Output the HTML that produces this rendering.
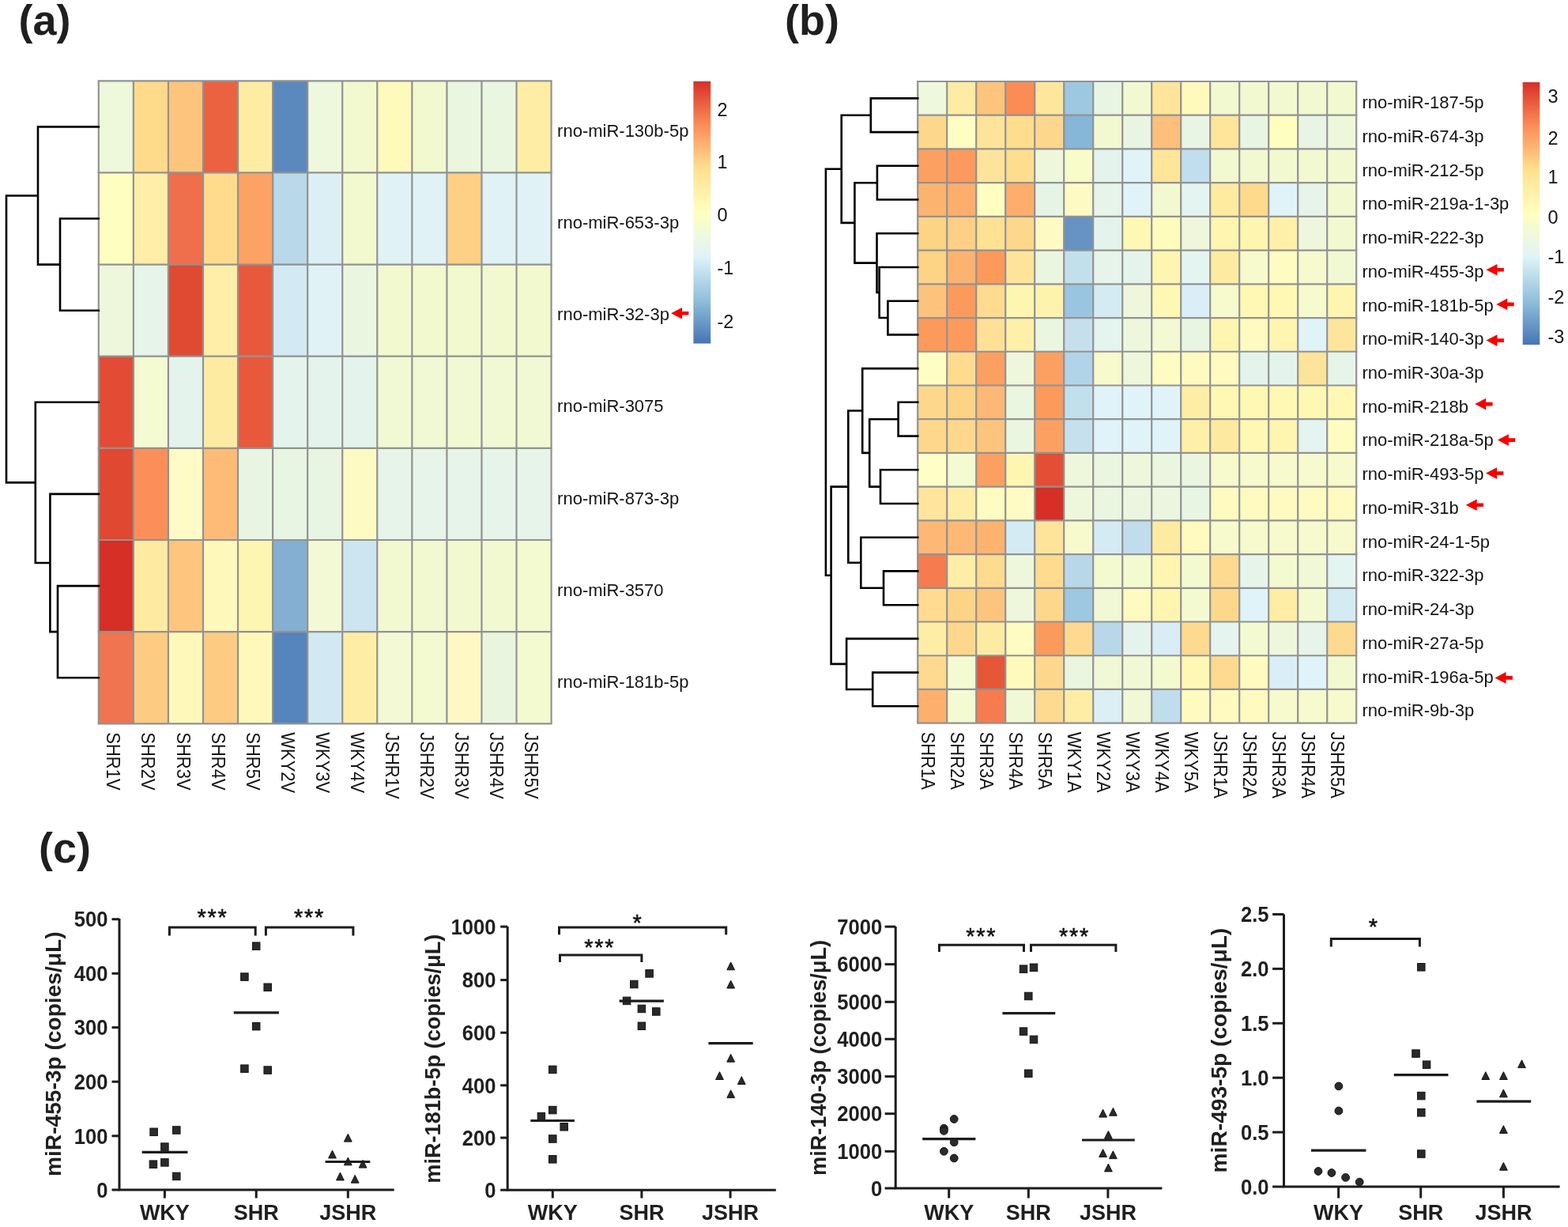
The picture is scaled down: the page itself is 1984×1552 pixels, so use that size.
<!DOCTYPE html>
<html><head><meta charset="utf-8"><title>miRNA heatmaps and qPCR</title>
<style>html,body{margin:0;padding:0;background:#fff;} svg{display:block;} .st{fill:#111;font-weight:normal;letter-spacing:1.7px;stroke:#111;stroke-width:0.5px;}</style>
</head><body>
<svg width="1984" height="1552" viewBox="0 0 1984 1552">
<style>text{font-family:'Liberation Sans', Arial, Helvetica, sans-serif;fill:#111;} .lab{fill:#141414;} .b{font-weight:bold;fill:#1f1f1f;}</style>
<rect width="1984" height="1552" fill="#fff"/>
<text x="23.5" y="44.2" font-size="54" class="b pl">(a)</text>
<text x="993" y="44.2" font-size="54" class="b pl">(b)</text>
<text x="49" y="1091.2" font-size="54" class="b pl">(c)</text>
<g>
<rect x="124.80" y="102.30" width="44.06" height="116.14" fill="#EEF8DA"/>
<rect x="168.86" y="102.30" width="44.06" height="116.14" fill="#FEDB8B"/>
<rect x="212.92" y="102.30" width="44.06" height="116.14" fill="#FDC47D"/>
<rect x="256.98" y="102.30" width="44.06" height="116.14" fill="#EB6241"/>
<rect x="301.04" y="102.30" width="44.06" height="116.14" fill="#FEECA2"/>
<rect x="345.10" y="102.30" width="44.06" height="116.14" fill="#5B89BE"/>
<rect x="389.16" y="102.30" width="44.06" height="116.14" fill="#EEF8DC"/>
<rect x="433.22" y="102.30" width="44.06" height="116.14" fill="#F3F9CE"/>
<rect x="477.28" y="102.30" width="44.06" height="116.14" fill="#FEFABB"/>
<rect x="521.34" y="102.30" width="44.06" height="116.14" fill="#F3F9CE"/>
<rect x="565.40" y="102.30" width="44.06" height="116.14" fill="#EAF6E0"/>
<rect x="609.46" y="102.30" width="44.06" height="116.14" fill="#EAF6E0"/>
<rect x="653.52" y="102.30" width="44.06" height="116.14" fill="#FEEDA5"/>
<rect x="124.80" y="218.44" width="44.06" height="116.14" fill="#FEFEC1"/>
<rect x="168.86" y="218.44" width="44.06" height="116.14" fill="#FEEEA8"/>
<rect x="212.92" y="218.44" width="44.06" height="116.14" fill="#EF6E4B"/>
<rect x="256.98" y="218.44" width="44.06" height="116.14" fill="#FEDB8D"/>
<rect x="301.04" y="218.44" width="44.06" height="116.14" fill="#FCA265"/>
<rect x="345.10" y="218.44" width="44.06" height="116.14" fill="#B9D8EA"/>
<rect x="389.16" y="218.44" width="44.06" height="116.14" fill="#DCEFF5"/>
<rect x="433.22" y="218.44" width="44.06" height="116.14" fill="#F3F9CE"/>
<rect x="477.28" y="218.44" width="44.06" height="116.14" fill="#E0F2F6"/>
<rect x="521.34" y="218.44" width="44.06" height="116.14" fill="#E0F2F6"/>
<rect x="565.40" y="218.44" width="44.06" height="116.14" fill="#FDD085"/>
<rect x="609.46" y="218.44" width="44.06" height="116.14" fill="#E0F2F6"/>
<rect x="653.52" y="218.44" width="44.06" height="116.14" fill="#E0F2F6"/>
<rect x="124.80" y="334.58" width="44.06" height="116.14" fill="#EEF7DC"/>
<rect x="168.86" y="334.58" width="44.06" height="116.14" fill="#E6F4EA"/>
<rect x="212.92" y="334.58" width="44.06" height="116.14" fill="#E04A33"/>
<rect x="256.98" y="334.58" width="44.06" height="116.14" fill="#FEEEA8"/>
<rect x="301.04" y="334.58" width="44.06" height="116.14" fill="#E8593B"/>
<rect x="345.10" y="334.58" width="44.06" height="116.14" fill="#D3EAF4"/>
<rect x="389.16" y="334.58" width="44.06" height="116.14" fill="#E0F2F6"/>
<rect x="433.22" y="334.58" width="44.06" height="116.14" fill="#EAF6E0"/>
<rect x="477.28" y="334.58" width="44.06" height="116.14" fill="#F3F9CE"/>
<rect x="521.34" y="334.58" width="44.06" height="116.14" fill="#F3F9CE"/>
<rect x="565.40" y="334.58" width="44.06" height="116.14" fill="#F3F9CE"/>
<rect x="609.46" y="334.58" width="44.06" height="116.14" fill="#F3F9CE"/>
<rect x="653.52" y="334.58" width="44.06" height="116.14" fill="#F3F9CE"/>
<rect x="124.80" y="450.72" width="44.06" height="116.14" fill="#E34B35"/>
<rect x="168.86" y="450.72" width="44.06" height="116.14" fill="#F4FAD2"/>
<rect x="212.92" y="450.72" width="44.06" height="116.14" fill="#E4F4EC"/>
<rect x="256.98" y="450.72" width="44.06" height="116.14" fill="#FEEBA2"/>
<rect x="301.04" y="450.72" width="44.06" height="116.14" fill="#E8593B"/>
<rect x="345.10" y="450.72" width="44.06" height="116.14" fill="#E4F4EC"/>
<rect x="389.16" y="450.72" width="44.06" height="116.14" fill="#E4F4EC"/>
<rect x="433.22" y="450.72" width="44.06" height="116.14" fill="#E4F4EC"/>
<rect x="477.28" y="450.72" width="44.06" height="116.14" fill="#F1F9D4"/>
<rect x="521.34" y="450.72" width="44.06" height="116.14" fill="#F1F9D4"/>
<rect x="565.40" y="450.72" width="44.06" height="116.14" fill="#F1F9D4"/>
<rect x="609.46" y="450.72" width="44.06" height="116.14" fill="#F1F9D4"/>
<rect x="653.52" y="450.72" width="44.06" height="116.14" fill="#F1F9D4"/>
<rect x="124.80" y="566.86" width="44.06" height="116.14" fill="#E04832"/>
<rect x="168.86" y="566.86" width="44.06" height="116.14" fill="#FC8F59"/>
<rect x="212.92" y="566.86" width="44.06" height="116.14" fill="#FEFBC6"/>
<rect x="256.98" y="566.86" width="44.06" height="116.14" fill="#FDBB77"/>
<rect x="301.04" y="566.86" width="44.06" height="116.14" fill="#E8F5E2"/>
<rect x="345.10" y="566.86" width="44.06" height="116.14" fill="#E8F5E2"/>
<rect x="389.16" y="566.86" width="44.06" height="116.14" fill="#E8F5E2"/>
<rect x="433.22" y="566.86" width="44.06" height="116.14" fill="#FEFAC4"/>
<rect x="477.28" y="566.86" width="44.06" height="116.14" fill="#E6F4EA"/>
<rect x="521.34" y="566.86" width="44.06" height="116.14" fill="#E6F4EA"/>
<rect x="565.40" y="566.86" width="44.06" height="116.14" fill="#E6F4EA"/>
<rect x="609.46" y="566.86" width="44.06" height="116.14" fill="#E6F4EA"/>
<rect x="653.52" y="566.86" width="44.06" height="116.14" fill="#E6F4EA"/>
<rect x="124.80" y="683.00" width="44.06" height="116.14" fill="#D62F26"/>
<rect x="168.86" y="683.00" width="44.06" height="116.14" fill="#FEEAA0"/>
<rect x="212.92" y="683.00" width="44.06" height="116.14" fill="#FDC57E"/>
<rect x="256.98" y="683.00" width="44.06" height="116.14" fill="#FEF9BA"/>
<rect x="301.04" y="683.00" width="44.06" height="116.14" fill="#FDF5B2"/>
<rect x="345.10" y="683.00" width="44.06" height="116.14" fill="#84AFD2"/>
<rect x="389.16" y="683.00" width="44.06" height="116.14" fill="#F2F9D4"/>
<rect x="433.22" y="683.00" width="44.06" height="116.14" fill="#CDE5F0"/>
<rect x="477.28" y="683.00" width="44.06" height="116.14" fill="#F2F9D0"/>
<rect x="521.34" y="683.00" width="44.06" height="116.14" fill="#F2F9D0"/>
<rect x="565.40" y="683.00" width="44.06" height="116.14" fill="#F2F9D0"/>
<rect x="609.46" y="683.00" width="44.06" height="116.14" fill="#F2F9D0"/>
<rect x="653.52" y="683.00" width="44.06" height="116.14" fill="#F4FAD0"/>
<rect x="124.80" y="799.14" width="44.06" height="116.14" fill="#EF744F"/>
<rect x="168.86" y="799.14" width="44.06" height="116.14" fill="#FDCC82"/>
<rect x="212.92" y="799.14" width="44.06" height="116.14" fill="#FEF9BA"/>
<rect x="256.98" y="799.14" width="44.06" height="116.14" fill="#FDCB82"/>
<rect x="301.04" y="799.14" width="44.06" height="116.14" fill="#FEF9BA"/>
<rect x="345.10" y="799.14" width="44.06" height="116.14" fill="#5585BC"/>
<rect x="389.16" y="799.14" width="44.06" height="116.14" fill="#D2E9F4"/>
<rect x="433.22" y="799.14" width="44.06" height="116.14" fill="#FEEDA5"/>
<rect x="477.28" y="799.14" width="44.06" height="116.14" fill="#F2F9D4"/>
<rect x="521.34" y="799.14" width="44.06" height="116.14" fill="#F4FAD0"/>
<rect x="565.40" y="799.14" width="44.06" height="116.14" fill="#FEF9C4"/>
<rect x="609.46" y="799.14" width="44.06" height="116.14" fill="#EAF5E0"/>
<rect x="653.52" y="799.14" width="44.06" height="116.14" fill="#F4FAD0"/>
<line x1="124.80" y1="102.30" x2="124.80" y2="915.28" stroke="#929292" stroke-width="2.2"/>
<line x1="168.86" y1="102.30" x2="168.86" y2="915.28" stroke="#929292" stroke-width="2.2"/>
<line x1="212.92" y1="102.30" x2="212.92" y2="915.28" stroke="#929292" stroke-width="2.2"/>
<line x1="256.98" y1="102.30" x2="256.98" y2="915.28" stroke="#929292" stroke-width="2.2"/>
<line x1="301.04" y1="102.30" x2="301.04" y2="915.28" stroke="#929292" stroke-width="2.2"/>
<line x1="345.10" y1="102.30" x2="345.10" y2="915.28" stroke="#929292" stroke-width="2.2"/>
<line x1="389.16" y1="102.30" x2="389.16" y2="915.28" stroke="#929292" stroke-width="2.2"/>
<line x1="433.22" y1="102.30" x2="433.22" y2="915.28" stroke="#929292" stroke-width="2.2"/>
<line x1="477.28" y1="102.30" x2="477.28" y2="915.28" stroke="#929292" stroke-width="2.2"/>
<line x1="521.34" y1="102.30" x2="521.34" y2="915.28" stroke="#929292" stroke-width="2.2"/>
<line x1="565.40" y1="102.30" x2="565.40" y2="915.28" stroke="#929292" stroke-width="2.2"/>
<line x1="609.46" y1="102.30" x2="609.46" y2="915.28" stroke="#929292" stroke-width="2.2"/>
<line x1="653.52" y1="102.30" x2="653.52" y2="915.28" stroke="#929292" stroke-width="2.2"/>
<line x1="697.58" y1="102.30" x2="697.58" y2="915.28" stroke="#929292" stroke-width="2.2"/>
<line x1="123.70" y1="102.30" x2="698.68" y2="102.30" stroke="#929292" stroke-width="2.2"/>
<line x1="123.70" y1="218.44" x2="698.68" y2="218.44" stroke="#929292" stroke-width="2.2"/>
<line x1="123.70" y1="334.58" x2="698.68" y2="334.58" stroke="#929292" stroke-width="2.2"/>
<line x1="123.70" y1="450.72" x2="698.68" y2="450.72" stroke="#929292" stroke-width="2.2"/>
<line x1="123.70" y1="566.86" x2="698.68" y2="566.86" stroke="#929292" stroke-width="2.2"/>
<line x1="123.70" y1="683.00" x2="698.68" y2="683.00" stroke="#929292" stroke-width="2.2"/>
<line x1="123.70" y1="799.14" x2="698.68" y2="799.14" stroke="#929292" stroke-width="2.2"/>
<line x1="123.70" y1="915.28" x2="698.68" y2="915.28" stroke="#929292" stroke-width="2.2"/>
</g>
<text x="705.08" y="173.07" font-size="22" class="lab">rno-miR-130b-5p</text>
<text x="705.08" y="289.21" font-size="22" class="lab">rno-miR-653-3p</text>
<text x="705.08" y="405.35" font-size="22" class="lab">rno-miR-32-3p</text>
<text x="705.08" y="521.49" font-size="22" class="lab">rno-miR-3075</text>
<text x="705.08" y="637.63" font-size="22" class="lab">rno-miR-873-3p</text>
<text x="705.08" y="753.77" font-size="22" class="lab">rno-miR-3570</text>
<text x="705.08" y="869.91" font-size="22" class="lab">rno-miR-181b-5p</text>
<text transform="translate(135.43,926.28) rotate(90) scale(1,1.1)" x="0" y="0" font-size="22" class="lab">SHR1V</text>
<text transform="translate(179.49,926.28) rotate(90) scale(1,1.1)" x="0" y="0" font-size="22" class="lab">SHR2V</text>
<text transform="translate(223.55,926.28) rotate(90) scale(1,1.1)" x="0" y="0" font-size="22" class="lab">SHR3V</text>
<text transform="translate(267.61,926.28) rotate(90) scale(1,1.1)" x="0" y="0" font-size="22" class="lab">SHR4V</text>
<text transform="translate(311.67,926.28) rotate(90) scale(1,1.1)" x="0" y="0" font-size="22" class="lab">SHR5V</text>
<text transform="translate(355.73,926.28) rotate(90) scale(1,1.1)" x="0" y="0" font-size="22" class="lab">WKY2V</text>
<text transform="translate(399.79,926.28) rotate(90) scale(1,1.1)" x="0" y="0" font-size="22" class="lab">WKY3V</text>
<text transform="translate(443.85,926.28) rotate(90) scale(1,1.1)" x="0" y="0" font-size="22" class="lab">WKY4V</text>
<text transform="translate(487.91,926.28) rotate(90) scale(1,1.1)" x="0" y="0" font-size="22" class="lab">JSHR1V</text>
<text transform="translate(531.97,926.28) rotate(90) scale(1,1.1)" x="0" y="0" font-size="22" class="lab">JSHR2V</text>
<text transform="translate(576.03,926.28) rotate(90) scale(1,1.1)" x="0" y="0" font-size="22" class="lab">JSHR3V</text>
<text transform="translate(620.09,926.28) rotate(90) scale(1,1.1)" x="0" y="0" font-size="22" class="lab">JSHR4V</text>
<text transform="translate(664.15,926.28) rotate(90) scale(1,1.1)" x="0" y="0" font-size="22" class="lab">JSHR5V</text>
<polygon points="849.0,396.2 863.0,388.9 863.0,393.9 871.4,393.9 871.4,398.5 863.0,398.5 863.0,403.5" fill="#F80000"/>
<path d="M124.8,276.5 L76.0,276.5 L76.0,392.7 L124.8,392.7 M124.8,160.4 L48.0,160.4 L48.0,334.6 L76.0,334.6 M124.8,741.1 L73.0,741.1 L73.0,857.2 L124.8,857.2 M124.8,624.9 L63.4,624.9 L63.4,799.1 L73.0,799.1 M124.8,508.8 L44.8,508.8 L44.8,712.0 L63.4,712.0 M48.0,247.5 L8.0,247.5 L8.0,610.4 L44.8,610.4" fill="none" stroke="#000" stroke-width="2.6" stroke-linejoin="miter" stroke-linecap="square"/>
<defs><linearGradient id="rdylbu" x1="0" y1="1" x2="0" y2="0"><stop offset="0" stop-color="#4575B4"/><stop offset="0.1667" stop-color="#91BFDB"/><stop offset="0.3333" stop-color="#E0F3F8"/><stop offset="0.5" stop-color="#FFFFBF"/><stop offset="0.6667" stop-color="#FEE090"/><stop offset="0.8333" stop-color="#FC8D59"/><stop offset="1" stop-color="#D73027"/></linearGradient></defs>
<rect x="877.4" y="102.8" width="21.8" height="331.7" fill="url(#rdylbu)"/>
<text x="907.5" y="147.0" font-size="23.5" class="lab">2</text>
<text x="907.5" y="213.1" font-size="23.5" class="lab">1</text>
<text x="907.5" y="280.4" font-size="23.5" class="lab">0</text>
<text x="907.5" y="346.5" font-size="23.5" class="lab">-1</text>
<text x="907.5" y="414.9" font-size="23.5" class="lab">-2</text>
<g>
<rect x="1161.20" y="103.00" width="37.00" height="42.72" fill="#EEF8DC"/>
<rect x="1198.20" y="103.00" width="37.00" height="42.72" fill="#FEEBA4"/>
<rect x="1235.20" y="103.00" width="37.00" height="42.72" fill="#FDC47D"/>
<rect x="1272.20" y="103.00" width="37.00" height="42.72" fill="#FB8C56"/>
<rect x="1309.20" y="103.00" width="37.00" height="42.72" fill="#FEE79C"/>
<rect x="1346.20" y="103.00" width="37.00" height="42.72" fill="#9EC8E1"/>
<rect x="1383.20" y="103.00" width="37.00" height="42.72" fill="#E8F5E2"/>
<rect x="1420.20" y="103.00" width="37.00" height="42.72" fill="#F2F9D0"/>
<rect x="1457.20" y="103.00" width="37.00" height="42.72" fill="#FEE59A"/>
<rect x="1494.20" y="103.00" width="37.00" height="42.72" fill="#FEFABC"/>
<rect x="1531.20" y="103.00" width="37.00" height="42.72" fill="#F2F9D0"/>
<rect x="1568.20" y="103.00" width="37.00" height="42.72" fill="#F2F9D0"/>
<rect x="1605.20" y="103.00" width="37.00" height="42.72" fill="#F2F9D0"/>
<rect x="1642.20" y="103.00" width="37.00" height="42.72" fill="#F2F9D0"/>
<rect x="1679.20" y="103.00" width="37.00" height="42.72" fill="#F2F9D0"/>
<rect x="1161.20" y="145.72" width="37.00" height="42.72" fill="#FDD88C"/>
<rect x="1198.20" y="145.72" width="37.00" height="42.72" fill="#FEFEC4"/>
<rect x="1235.20" y="145.72" width="37.00" height="42.72" fill="#FEE49A"/>
<rect x="1272.20" y="145.72" width="37.00" height="42.72" fill="#FEDD8F"/>
<rect x="1309.20" y="145.72" width="37.00" height="42.72" fill="#FDD88C"/>
<rect x="1346.20" y="145.72" width="37.00" height="42.72" fill="#86B6D8"/>
<rect x="1383.20" y="145.72" width="37.00" height="42.72" fill="#F2F9D0"/>
<rect x="1420.20" y="145.72" width="37.00" height="42.72" fill="#E8F5E2"/>
<rect x="1457.20" y="145.72" width="37.00" height="42.72" fill="#FDBF7A"/>
<rect x="1494.20" y="145.72" width="37.00" height="42.72" fill="#E8F5E4"/>
<rect x="1531.20" y="145.72" width="37.00" height="42.72" fill="#FEE59A"/>
<rect x="1568.20" y="145.72" width="37.00" height="42.72" fill="#E8F5E2"/>
<rect x="1605.20" y="145.72" width="37.00" height="42.72" fill="#FEFEBF"/>
<rect x="1642.20" y="145.72" width="37.00" height="42.72" fill="#E8F5E4"/>
<rect x="1679.20" y="145.72" width="37.00" height="42.72" fill="#EEF7DC"/>
<rect x="1161.20" y="188.44" width="37.00" height="42.72" fill="#FCA061"/>
<rect x="1198.20" y="188.44" width="37.00" height="42.72" fill="#FC9A5E"/>
<rect x="1235.20" y="188.44" width="37.00" height="42.72" fill="#FEE49A"/>
<rect x="1272.20" y="188.44" width="37.00" height="42.72" fill="#FEDD8F"/>
<rect x="1309.20" y="188.44" width="37.00" height="42.72" fill="#EEF7DC"/>
<rect x="1346.20" y="188.44" width="37.00" height="42.72" fill="#F8FCC8"/>
<rect x="1383.20" y="188.44" width="37.00" height="42.72" fill="#E4F4EC"/>
<rect x="1420.20" y="188.44" width="37.00" height="42.72" fill="#E0F3F8"/>
<rect x="1457.20" y="188.44" width="37.00" height="42.72" fill="#FEE59A"/>
<rect x="1494.20" y="188.44" width="37.00" height="42.72" fill="#C0DEED"/>
<rect x="1531.20" y="188.44" width="37.00" height="42.72" fill="#F2F9D0"/>
<rect x="1568.20" y="188.44" width="37.00" height="42.72" fill="#F2F9D0"/>
<rect x="1605.20" y="188.44" width="37.00" height="42.72" fill="#F2F9D0"/>
<rect x="1642.20" y="188.44" width="37.00" height="42.72" fill="#F2F9D0"/>
<rect x="1679.20" y="188.44" width="37.00" height="42.72" fill="#F2F9D0"/>
<rect x="1161.20" y="231.16" width="37.00" height="42.72" fill="#FDB370"/>
<rect x="1198.20" y="231.16" width="37.00" height="42.72" fill="#FDAE6D"/>
<rect x="1235.20" y="231.16" width="37.00" height="42.72" fill="#FEFEC1"/>
<rect x="1272.20" y="231.16" width="37.00" height="42.72" fill="#FDAE6D"/>
<rect x="1309.20" y="231.16" width="37.00" height="42.72" fill="#E6F4E6"/>
<rect x="1346.20" y="231.16" width="37.00" height="42.72" fill="#FEFAC4"/>
<rect x="1383.20" y="231.16" width="37.00" height="42.72" fill="#E6F4EA"/>
<rect x="1420.20" y="231.16" width="37.00" height="42.72" fill="#E0F3F8"/>
<rect x="1457.20" y="231.16" width="37.00" height="42.72" fill="#F2F9D0"/>
<rect x="1494.20" y="231.16" width="37.00" height="42.72" fill="#E4F4F0"/>
<rect x="1531.20" y="231.16" width="37.00" height="42.72" fill="#FEEBA0"/>
<rect x="1568.20" y="231.16" width="37.00" height="42.72" fill="#FDDA8C"/>
<rect x="1605.20" y="231.16" width="37.00" height="42.72" fill="#E0F3F8"/>
<rect x="1642.20" y="231.16" width="37.00" height="42.72" fill="#E6F4EA"/>
<rect x="1679.20" y="231.16" width="37.00" height="42.72" fill="#F2F9D0"/>
<rect x="1161.20" y="273.88" width="37.00" height="42.72" fill="#FDD385"/>
<rect x="1198.20" y="273.88" width="37.00" height="42.72" fill="#FDD085"/>
<rect x="1235.20" y="273.88" width="37.00" height="42.72" fill="#FEE193"/>
<rect x="1272.20" y="273.88" width="37.00" height="42.72" fill="#FDD88C"/>
<rect x="1309.20" y="273.88" width="37.00" height="42.72" fill="#FEFAC4"/>
<rect x="1346.20" y="273.88" width="37.00" height="42.72" fill="#6692C4"/>
<rect x="1383.20" y="273.88" width="37.00" height="42.72" fill="#E4F4EC"/>
<rect x="1420.20" y="273.88" width="37.00" height="42.72" fill="#FEF8B4"/>
<rect x="1457.20" y="273.88" width="37.00" height="42.72" fill="#FEFCBC"/>
<rect x="1494.20" y="273.88" width="37.00" height="42.72" fill="#EEF7DC"/>
<rect x="1531.20" y="273.88" width="37.00" height="42.72" fill="#FEF5B0"/>
<rect x="1568.20" y="273.88" width="37.00" height="42.72" fill="#FEF5B0"/>
<rect x="1605.20" y="273.88" width="37.00" height="42.72" fill="#FEF0A8"/>
<rect x="1642.20" y="273.88" width="37.00" height="42.72" fill="#EEF7DC"/>
<rect x="1679.20" y="273.88" width="37.00" height="42.72" fill="#F2F9D0"/>
<rect x="1161.20" y="316.60" width="37.00" height="42.72" fill="#FDD385"/>
<rect x="1198.20" y="316.60" width="37.00" height="42.72" fill="#FDB370"/>
<rect x="1235.20" y="316.60" width="37.00" height="42.72" fill="#FC9A5C"/>
<rect x="1272.20" y="316.60" width="37.00" height="42.72" fill="#FEE49A"/>
<rect x="1309.20" y="316.60" width="37.00" height="42.72" fill="#EAF6E0"/>
<rect x="1346.20" y="316.60" width="37.00" height="42.72" fill="#C2E0EC"/>
<rect x="1383.20" y="316.60" width="37.00" height="42.72" fill="#E6F4EA"/>
<rect x="1420.20" y="316.60" width="37.00" height="42.72" fill="#E4F4EC"/>
<rect x="1457.20" y="316.60" width="37.00" height="42.72" fill="#FEF5B0"/>
<rect x="1494.20" y="316.60" width="37.00" height="42.72" fill="#E4F4F0"/>
<rect x="1531.20" y="316.60" width="37.00" height="42.72" fill="#FEEBA2"/>
<rect x="1568.20" y="316.60" width="37.00" height="42.72" fill="#F6FACC"/>
<rect x="1605.20" y="316.60" width="37.00" height="42.72" fill="#FEFCC0"/>
<rect x="1642.20" y="316.60" width="37.00" height="42.72" fill="#F6FACC"/>
<rect x="1679.20" y="316.60" width="37.00" height="42.72" fill="#F1F9D4"/>
<rect x="1161.20" y="359.32" width="37.00" height="42.72" fill="#FDC27C"/>
<rect x="1198.20" y="359.32" width="37.00" height="42.72" fill="#FC9A5C"/>
<rect x="1235.20" y="359.32" width="37.00" height="42.72" fill="#FEDB8F"/>
<rect x="1272.20" y="359.32" width="37.00" height="42.72" fill="#FEF5B0"/>
<rect x="1309.20" y="359.32" width="37.00" height="42.72" fill="#FEF3AC"/>
<rect x="1346.20" y="359.32" width="37.00" height="42.72" fill="#9AC5E0"/>
<rect x="1383.20" y="359.32" width="37.00" height="42.72" fill="#D4EBF4"/>
<rect x="1420.20" y="359.32" width="37.00" height="42.72" fill="#EEF7DC"/>
<rect x="1457.20" y="359.32" width="37.00" height="42.72" fill="#FEF8B4"/>
<rect x="1494.20" y="359.32" width="37.00" height="42.72" fill="#DAEEF7"/>
<rect x="1531.20" y="359.32" width="37.00" height="42.72" fill="#F6FACC"/>
<rect x="1568.20" y="359.32" width="37.00" height="42.72" fill="#FEF8B4"/>
<rect x="1605.20" y="359.32" width="37.00" height="42.72" fill="#FEF8B4"/>
<rect x="1642.20" y="359.32" width="37.00" height="42.72" fill="#F6FACC"/>
<rect x="1679.20" y="359.32" width="37.00" height="42.72" fill="#FEF5B0"/>
<rect x="1161.20" y="402.04" width="37.00" height="42.72" fill="#FC9A5C"/>
<rect x="1198.20" y="402.04" width="37.00" height="42.72" fill="#FC9A5C"/>
<rect x="1235.20" y="402.04" width="37.00" height="42.72" fill="#FEE097"/>
<rect x="1272.20" y="402.04" width="37.00" height="42.72" fill="#FEF0A8"/>
<rect x="1309.20" y="402.04" width="37.00" height="42.72" fill="#EAF6E0"/>
<rect x="1346.20" y="402.04" width="37.00" height="42.72" fill="#C6DFEC"/>
<rect x="1383.20" y="402.04" width="37.00" height="42.72" fill="#E4F4EE"/>
<rect x="1420.20" y="402.04" width="37.00" height="42.72" fill="#EEF7DC"/>
<rect x="1457.20" y="402.04" width="37.00" height="42.72" fill="#F2F9D4"/>
<rect x="1494.20" y="402.04" width="37.00" height="42.72" fill="#E8F5E2"/>
<rect x="1531.20" y="402.04" width="37.00" height="42.72" fill="#FEF5B0"/>
<rect x="1568.20" y="402.04" width="37.00" height="42.72" fill="#FEFAC0"/>
<rect x="1605.20" y="402.04" width="37.00" height="42.72" fill="#FEF5B0"/>
<rect x="1642.20" y="402.04" width="37.00" height="42.72" fill="#E0F3F8"/>
<rect x="1679.20" y="402.04" width="37.00" height="42.72" fill="#FEE59C"/>
<rect x="1161.20" y="444.76" width="37.00" height="42.72" fill="#FEFEC4"/>
<rect x="1198.20" y="444.76" width="37.00" height="42.72" fill="#FEDB8F"/>
<rect x="1235.20" y="444.76" width="37.00" height="42.72" fill="#FCA062"/>
<rect x="1272.20" y="444.76" width="37.00" height="42.72" fill="#EEF7DC"/>
<rect x="1309.20" y="444.76" width="37.00" height="42.72" fill="#FCA062"/>
<rect x="1346.20" y="444.76" width="37.00" height="42.72" fill="#B2D4E8"/>
<rect x="1383.20" y="444.76" width="37.00" height="42.72" fill="#F6FACC"/>
<rect x="1420.20" y="444.76" width="37.00" height="42.72" fill="#EEF7DC"/>
<rect x="1457.20" y="444.76" width="37.00" height="42.72" fill="#FEFCC0"/>
<rect x="1494.20" y="444.76" width="37.00" height="42.72" fill="#FEFAC0"/>
<rect x="1531.20" y="444.76" width="37.00" height="42.72" fill="#FEFAC0"/>
<rect x="1568.20" y="444.76" width="37.00" height="42.72" fill="#E4F4EC"/>
<rect x="1605.20" y="444.76" width="37.00" height="42.72" fill="#E4F4EC"/>
<rect x="1642.20" y="444.76" width="37.00" height="42.72" fill="#FEE49A"/>
<rect x="1679.20" y="444.76" width="37.00" height="42.72" fill="#E6F4EA"/>
<rect x="1161.20" y="487.48" width="37.00" height="42.72" fill="#FDD88C"/>
<rect x="1198.20" y="487.48" width="37.00" height="42.72" fill="#FDD385"/>
<rect x="1235.20" y="487.48" width="37.00" height="42.72" fill="#FDB875"/>
<rect x="1272.20" y="487.48" width="37.00" height="42.72" fill="#EAF6E0"/>
<rect x="1309.20" y="487.48" width="37.00" height="42.72" fill="#FC9A5C"/>
<rect x="1346.20" y="487.48" width="37.00" height="42.72" fill="#C2E0EC"/>
<rect x="1383.20" y="487.48" width="37.00" height="42.72" fill="#E0F3F8"/>
<rect x="1420.20" y="487.48" width="37.00" height="42.72" fill="#E0F3F8"/>
<rect x="1457.20" y="487.48" width="37.00" height="42.72" fill="#E0F3F8"/>
<rect x="1494.20" y="487.48" width="37.00" height="42.72" fill="#FEEDA5"/>
<rect x="1531.20" y="487.48" width="37.00" height="42.72" fill="#FEF8B4"/>
<rect x="1568.20" y="487.48" width="37.00" height="42.72" fill="#FEF8B4"/>
<rect x="1605.20" y="487.48" width="37.00" height="42.72" fill="#FEF8B4"/>
<rect x="1642.20" y="487.48" width="37.00" height="42.72" fill="#FEF8B4"/>
<rect x="1679.20" y="487.48" width="37.00" height="42.72" fill="#FEF8B4"/>
<rect x="1161.20" y="530.20" width="37.00" height="42.72" fill="#FDD88C"/>
<rect x="1198.20" y="530.20" width="37.00" height="42.72" fill="#FDD88C"/>
<rect x="1235.20" y="530.20" width="37.00" height="42.72" fill="#FDC47D"/>
<rect x="1272.20" y="530.20" width="37.00" height="42.72" fill="#EAF6E0"/>
<rect x="1309.20" y="530.20" width="37.00" height="42.72" fill="#FCA062"/>
<rect x="1346.20" y="530.20" width="37.00" height="42.72" fill="#C6E0EE"/>
<rect x="1383.20" y="530.20" width="37.00" height="42.72" fill="#E0F3F8"/>
<rect x="1420.20" y="530.20" width="37.00" height="42.72" fill="#E0F3F8"/>
<rect x="1457.20" y="530.20" width="37.00" height="42.72" fill="#E0F3F8"/>
<rect x="1494.20" y="530.20" width="37.00" height="42.72" fill="#FEF0A8"/>
<rect x="1531.20" y="530.20" width="37.00" height="42.72" fill="#FEE9A0"/>
<rect x="1568.20" y="530.20" width="37.00" height="42.72" fill="#FEF8B4"/>
<rect x="1605.20" y="530.20" width="37.00" height="42.72" fill="#FEF5B0"/>
<rect x="1642.20" y="530.20" width="37.00" height="42.72" fill="#E4F4F0"/>
<rect x="1679.20" y="530.20" width="37.00" height="42.72" fill="#FEFCC0"/>
<rect x="1161.20" y="572.92" width="37.00" height="42.72" fill="#FEFEC6"/>
<rect x="1198.20" y="572.92" width="37.00" height="42.72" fill="#F4FAD2"/>
<rect x="1235.20" y="572.92" width="37.00" height="42.72" fill="#FCA062"/>
<rect x="1272.20" y="572.92" width="37.00" height="42.72" fill="#FEF5B0"/>
<rect x="1309.20" y="572.92" width="37.00" height="42.72" fill="#E34E35"/>
<rect x="1346.20" y="572.92" width="37.00" height="42.72" fill="#EEF7DC"/>
<rect x="1383.20" y="572.92" width="37.00" height="42.72" fill="#EAF6E0"/>
<rect x="1420.20" y="572.92" width="37.00" height="42.72" fill="#EEF7DC"/>
<rect x="1457.20" y="572.92" width="37.00" height="42.72" fill="#EAF6E0"/>
<rect x="1494.20" y="572.92" width="37.00" height="42.72" fill="#EAF6E0"/>
<rect x="1531.20" y="572.92" width="37.00" height="42.72" fill="#F6FACC"/>
<rect x="1568.20" y="572.92" width="37.00" height="42.72" fill="#F6FACC"/>
<rect x="1605.20" y="572.92" width="37.00" height="42.72" fill="#F6FACC"/>
<rect x="1642.20" y="572.92" width="37.00" height="42.72" fill="#F6FACC"/>
<rect x="1679.20" y="572.92" width="37.00" height="42.72" fill="#F6FACC"/>
<rect x="1161.20" y="615.64" width="37.00" height="42.72" fill="#FEE49C"/>
<rect x="1198.20" y="615.64" width="37.00" height="42.72" fill="#FEEDA5"/>
<rect x="1235.20" y="615.64" width="37.00" height="42.72" fill="#FEFCC0"/>
<rect x="1272.20" y="615.64" width="37.00" height="42.72" fill="#FEFCC4"/>
<rect x="1309.20" y="615.64" width="37.00" height="42.72" fill="#D62F26"/>
<rect x="1346.20" y="615.64" width="37.00" height="42.72" fill="#EEF7DC"/>
<rect x="1383.20" y="615.64" width="37.00" height="42.72" fill="#EAF6E0"/>
<rect x="1420.20" y="615.64" width="37.00" height="42.72" fill="#EAF6E0"/>
<rect x="1457.20" y="615.64" width="37.00" height="42.72" fill="#EAF6E0"/>
<rect x="1494.20" y="615.64" width="37.00" height="42.72" fill="#E8F5E2"/>
<rect x="1531.20" y="615.64" width="37.00" height="42.72" fill="#FEFAC0"/>
<rect x="1568.20" y="615.64" width="37.00" height="42.72" fill="#FEFAC0"/>
<rect x="1605.20" y="615.64" width="37.00" height="42.72" fill="#FEFAC0"/>
<rect x="1642.20" y="615.64" width="37.00" height="42.72" fill="#FEFAC0"/>
<rect x="1679.20" y="615.64" width="37.00" height="42.72" fill="#FEFAC0"/>
<rect x="1161.20" y="658.36" width="37.00" height="42.72" fill="#FDB875"/>
<rect x="1198.20" y="658.36" width="37.00" height="42.72" fill="#FDB875"/>
<rect x="1235.20" y="658.36" width="37.00" height="42.72" fill="#FDB370"/>
<rect x="1272.20" y="658.36" width="37.00" height="42.72" fill="#D4EBF4"/>
<rect x="1309.20" y="658.36" width="37.00" height="42.72" fill="#FEE49A"/>
<rect x="1346.20" y="658.36" width="37.00" height="42.72" fill="#F6FACC"/>
<rect x="1383.20" y="658.36" width="37.00" height="42.72" fill="#D4EBF4"/>
<rect x="1420.20" y="658.36" width="37.00" height="42.72" fill="#C0DDEE"/>
<rect x="1457.20" y="658.36" width="37.00" height="42.72" fill="#FEEBA2"/>
<rect x="1494.20" y="658.36" width="37.00" height="42.72" fill="#FEFAC0"/>
<rect x="1531.20" y="658.36" width="37.00" height="42.72" fill="#F6FACC"/>
<rect x="1568.20" y="658.36" width="37.00" height="42.72" fill="#F6FACC"/>
<rect x="1605.20" y="658.36" width="37.00" height="42.72" fill="#F6FACC"/>
<rect x="1642.20" y="658.36" width="37.00" height="42.72" fill="#F6FACC"/>
<rect x="1679.20" y="658.36" width="37.00" height="42.72" fill="#F6FACC"/>
<rect x="1161.20" y="701.08" width="37.00" height="42.72" fill="#F67C4F"/>
<rect x="1198.20" y="701.08" width="37.00" height="42.72" fill="#FEEDA5"/>
<rect x="1235.20" y="701.08" width="37.00" height="42.72" fill="#FEDB8F"/>
<rect x="1272.20" y="701.08" width="37.00" height="42.72" fill="#EEF7DC"/>
<rect x="1309.20" y="701.08" width="37.00" height="42.72" fill="#FEDB8F"/>
<rect x="1346.20" y="701.08" width="37.00" height="42.72" fill="#B8D8EA"/>
<rect x="1383.20" y="701.08" width="37.00" height="42.72" fill="#F4FAD0"/>
<rect x="1420.20" y="701.08" width="37.00" height="42.72" fill="#F4FAD0"/>
<rect x="1457.20" y="701.08" width="37.00" height="42.72" fill="#FEF5B0"/>
<rect x="1494.20" y="701.08" width="37.00" height="42.72" fill="#F4FAD0"/>
<rect x="1531.20" y="701.08" width="37.00" height="42.72" fill="#FDDA8F"/>
<rect x="1568.20" y="701.08" width="37.00" height="42.72" fill="#E6F4EA"/>
<rect x="1605.20" y="701.08" width="37.00" height="42.72" fill="#F4FAD0"/>
<rect x="1642.20" y="701.08" width="37.00" height="42.72" fill="#F0F8D6"/>
<rect x="1679.20" y="701.08" width="37.00" height="42.72" fill="#E4F4F0"/>
<rect x="1161.20" y="743.80" width="37.00" height="42.72" fill="#FEDB8F"/>
<rect x="1198.20" y="743.80" width="37.00" height="42.72" fill="#FDD385"/>
<rect x="1235.20" y="743.80" width="37.00" height="42.72" fill="#FDC47D"/>
<rect x="1272.20" y="743.80" width="37.00" height="42.72" fill="#EEF7DC"/>
<rect x="1309.20" y="743.80" width="37.00" height="42.72" fill="#FDD88C"/>
<rect x="1346.20" y="743.80" width="37.00" height="42.72" fill="#9EC8E1"/>
<rect x="1383.20" y="743.80" width="37.00" height="42.72" fill="#F0F8D6"/>
<rect x="1420.20" y="743.80" width="37.00" height="42.72" fill="#FEFAC0"/>
<rect x="1457.20" y="743.80" width="37.00" height="42.72" fill="#FEF5B0"/>
<rect x="1494.20" y="743.80" width="37.00" height="42.72" fill="#F4FAD0"/>
<rect x="1531.20" y="743.80" width="37.00" height="42.72" fill="#FDD88C"/>
<rect x="1568.20" y="743.80" width="37.00" height="42.72" fill="#E0F3F8"/>
<rect x="1605.20" y="743.80" width="37.00" height="42.72" fill="#FEEDA5"/>
<rect x="1642.20" y="743.80" width="37.00" height="42.72" fill="#F4FAD0"/>
<rect x="1679.20" y="743.80" width="37.00" height="42.72" fill="#D4EBF4"/>
<rect x="1161.20" y="786.52" width="37.00" height="42.72" fill="#FEEDA5"/>
<rect x="1198.20" y="786.52" width="37.00" height="42.72" fill="#FDD88C"/>
<rect x="1235.20" y="786.52" width="37.00" height="42.72" fill="#FEEBA2"/>
<rect x="1272.20" y="786.52" width="37.00" height="42.72" fill="#FEFCC0"/>
<rect x="1309.20" y="786.52" width="37.00" height="42.72" fill="#FC9A5C"/>
<rect x="1346.20" y="786.52" width="37.00" height="42.72" fill="#FDDA8F"/>
<rect x="1383.20" y="786.52" width="37.00" height="42.72" fill="#B8D8EA"/>
<rect x="1420.20" y="786.52" width="37.00" height="42.72" fill="#E4F4EC"/>
<rect x="1457.20" y="786.52" width="37.00" height="42.72" fill="#D8EDF6"/>
<rect x="1494.20" y="786.52" width="37.00" height="42.72" fill="#FDDA8F"/>
<rect x="1531.20" y="786.52" width="37.00" height="42.72" fill="#E4F4EE"/>
<rect x="1568.20" y="786.52" width="37.00" height="42.72" fill="#F4FAD0"/>
<rect x="1605.20" y="786.52" width="37.00" height="42.72" fill="#EEF7DC"/>
<rect x="1642.20" y="786.52" width="37.00" height="42.72" fill="#E6F4EA"/>
<rect x="1679.20" y="786.52" width="37.00" height="42.72" fill="#FDDA8F"/>
<rect x="1161.20" y="829.24" width="37.00" height="42.72" fill="#FDDA8F"/>
<rect x="1198.20" y="829.24" width="37.00" height="42.72" fill="#F4FAD2"/>
<rect x="1235.20" y="829.24" width="37.00" height="42.72" fill="#E65737"/>
<rect x="1272.20" y="829.24" width="37.00" height="42.72" fill="#FEFABC"/>
<rect x="1309.20" y="829.24" width="37.00" height="42.72" fill="#FDD88C"/>
<rect x="1346.20" y="829.24" width="37.00" height="42.72" fill="#EAF6E0"/>
<rect x="1383.20" y="829.24" width="37.00" height="42.72" fill="#F0F8D6"/>
<rect x="1420.20" y="829.24" width="37.00" height="42.72" fill="#F0F8D6"/>
<rect x="1457.20" y="829.24" width="37.00" height="42.72" fill="#F4FAD0"/>
<rect x="1494.20" y="829.24" width="37.00" height="42.72" fill="#FEF8B4"/>
<rect x="1531.20" y="829.24" width="37.00" height="42.72" fill="#FDDA8F"/>
<rect x="1568.20" y="829.24" width="37.00" height="42.72" fill="#FEFAC0"/>
<rect x="1605.20" y="829.24" width="37.00" height="42.72" fill="#DAEEF7"/>
<rect x="1642.20" y="829.24" width="37.00" height="42.72" fill="#E0F3F8"/>
<rect x="1679.20" y="829.24" width="37.00" height="42.72" fill="#F2F9D0"/>
<rect x="1161.20" y="871.96" width="37.00" height="42.72" fill="#FDB06E"/>
<rect x="1198.20" y="871.96" width="37.00" height="42.72" fill="#F4FAD2"/>
<rect x="1235.20" y="871.96" width="37.00" height="42.72" fill="#F67C4F"/>
<rect x="1272.20" y="871.96" width="37.00" height="42.72" fill="#F0F8D6"/>
<rect x="1309.20" y="871.96" width="37.00" height="42.72" fill="#FDDA8F"/>
<rect x="1346.20" y="871.96" width="37.00" height="42.72" fill="#FEEDA5"/>
<rect x="1383.20" y="871.96" width="37.00" height="42.72" fill="#DCEFF5"/>
<rect x="1420.20" y="871.96" width="37.00" height="42.72" fill="#F0F8D6"/>
<rect x="1457.20" y="871.96" width="37.00" height="42.72" fill="#C0DDEE"/>
<rect x="1494.20" y="871.96" width="37.00" height="42.72" fill="#FEFAC0"/>
<rect x="1531.20" y="871.96" width="37.00" height="42.72" fill="#FEFAC0"/>
<rect x="1568.20" y="871.96" width="37.00" height="42.72" fill="#FEFAC0"/>
<rect x="1605.20" y="871.96" width="37.00" height="42.72" fill="#F6FACC"/>
<rect x="1642.20" y="871.96" width="37.00" height="42.72" fill="#F6FACC"/>
<rect x="1679.20" y="871.96" width="37.00" height="42.72" fill="#F6FACC"/>
<line x1="1161.20" y1="103.00" x2="1161.20" y2="914.68" stroke="#929292" stroke-width="2.2"/>
<line x1="1198.20" y1="103.00" x2="1198.20" y2="914.68" stroke="#929292" stroke-width="2.2"/>
<line x1="1235.20" y1="103.00" x2="1235.20" y2="914.68" stroke="#929292" stroke-width="2.2"/>
<line x1="1272.20" y1="103.00" x2="1272.20" y2="914.68" stroke="#929292" stroke-width="2.2"/>
<line x1="1309.20" y1="103.00" x2="1309.20" y2="914.68" stroke="#929292" stroke-width="2.2"/>
<line x1="1346.20" y1="103.00" x2="1346.20" y2="914.68" stroke="#929292" stroke-width="2.2"/>
<line x1="1383.20" y1="103.00" x2="1383.20" y2="914.68" stroke="#929292" stroke-width="2.2"/>
<line x1="1420.20" y1="103.00" x2="1420.20" y2="914.68" stroke="#929292" stroke-width="2.2"/>
<line x1="1457.20" y1="103.00" x2="1457.20" y2="914.68" stroke="#929292" stroke-width="2.2"/>
<line x1="1494.20" y1="103.00" x2="1494.20" y2="914.68" stroke="#929292" stroke-width="2.2"/>
<line x1="1531.20" y1="103.00" x2="1531.20" y2="914.68" stroke="#929292" stroke-width="2.2"/>
<line x1="1568.20" y1="103.00" x2="1568.20" y2="914.68" stroke="#929292" stroke-width="2.2"/>
<line x1="1605.20" y1="103.00" x2="1605.20" y2="914.68" stroke="#929292" stroke-width="2.2"/>
<line x1="1642.20" y1="103.00" x2="1642.20" y2="914.68" stroke="#929292" stroke-width="2.2"/>
<line x1="1679.20" y1="103.00" x2="1679.20" y2="914.68" stroke="#929292" stroke-width="2.2"/>
<line x1="1716.20" y1="103.00" x2="1716.20" y2="914.68" stroke="#929292" stroke-width="2.2"/>
<line x1="1160.10" y1="103.00" x2="1717.30" y2="103.00" stroke="#929292" stroke-width="2.2"/>
<line x1="1160.10" y1="145.72" x2="1717.30" y2="145.72" stroke="#929292" stroke-width="2.2"/>
<line x1="1160.10" y1="188.44" x2="1717.30" y2="188.44" stroke="#929292" stroke-width="2.2"/>
<line x1="1160.10" y1="231.16" x2="1717.30" y2="231.16" stroke="#929292" stroke-width="2.2"/>
<line x1="1160.10" y1="273.88" x2="1717.30" y2="273.88" stroke="#929292" stroke-width="2.2"/>
<line x1="1160.10" y1="316.60" x2="1717.30" y2="316.60" stroke="#929292" stroke-width="2.2"/>
<line x1="1160.10" y1="359.32" x2="1717.30" y2="359.32" stroke="#929292" stroke-width="2.2"/>
<line x1="1160.10" y1="402.04" x2="1717.30" y2="402.04" stroke="#929292" stroke-width="2.2"/>
<line x1="1160.10" y1="444.76" x2="1717.30" y2="444.76" stroke="#929292" stroke-width="2.2"/>
<line x1="1160.10" y1="487.48" x2="1717.30" y2="487.48" stroke="#929292" stroke-width="2.2"/>
<line x1="1160.10" y1="530.20" x2="1717.30" y2="530.20" stroke="#929292" stroke-width="2.2"/>
<line x1="1160.10" y1="572.92" x2="1717.30" y2="572.92" stroke="#929292" stroke-width="2.2"/>
<line x1="1160.10" y1="615.64" x2="1717.30" y2="615.64" stroke="#929292" stroke-width="2.2"/>
<line x1="1160.10" y1="658.36" x2="1717.30" y2="658.36" stroke="#929292" stroke-width="2.2"/>
<line x1="1160.10" y1="701.08" x2="1717.30" y2="701.08" stroke="#929292" stroke-width="2.2"/>
<line x1="1160.10" y1="743.80" x2="1717.30" y2="743.80" stroke="#929292" stroke-width="2.2"/>
<line x1="1160.10" y1="786.52" x2="1717.30" y2="786.52" stroke="#929292" stroke-width="2.2"/>
<line x1="1160.10" y1="829.24" x2="1717.30" y2="829.24" stroke="#929292" stroke-width="2.2"/>
<line x1="1160.10" y1="871.96" x2="1717.30" y2="871.96" stroke="#929292" stroke-width="2.2"/>
<line x1="1160.10" y1="914.68" x2="1717.30" y2="914.68" stroke="#929292" stroke-width="2.2"/>
</g>
<text x="1723.50" y="137.26" font-size="22" class="lab">rno-miR-187-5p</text>
<text x="1723.50" y="179.98" font-size="22" class="lab">rno-miR-674-3p</text>
<text x="1723.50" y="222.70" font-size="22" class="lab">rno-miR-212-5p</text>
<text x="1723.50" y="265.42" font-size="22" class="lab">rno-miR-219a-1-3p</text>
<text x="1723.50" y="308.14" font-size="22" class="lab">rno-miR-222-3p</text>
<text x="1723.50" y="350.86" font-size="22" class="lab">rno-miR-455-3p</text>
<text x="1723.50" y="393.58" font-size="22" class="lab">rno-miR-181b-5p</text>
<text x="1723.50" y="436.30" font-size="22" class="lab">rno-miR-140-3p</text>
<text x="1723.50" y="479.02" font-size="22" class="lab">rno-miR-30a-3p</text>
<text x="1723.50" y="521.74" font-size="22" class="lab">rno-miR-218b</text>
<text x="1723.50" y="564.46" font-size="22" class="lab">rno-miR-218a-5p</text>
<text x="1723.50" y="607.18" font-size="22" class="lab">rno-miR-493-5p</text>
<text x="1723.50" y="649.90" font-size="22" class="lab">rno-miR-31b</text>
<text x="1723.50" y="692.62" font-size="22" class="lab">rno-miR-24-1-5p</text>
<text x="1723.50" y="735.34" font-size="22" class="lab">rno-miR-322-3p</text>
<text x="1723.50" y="778.06" font-size="22" class="lab">rno-miR-24-3p</text>
<text x="1723.50" y="820.78" font-size="22" class="lab">rno-miR-27a-5p</text>
<text x="1723.50" y="863.50" font-size="22" class="lab">rno-miR-196a-5p</text>
<text x="1723.50" y="906.22" font-size="22" class="lab">rno-miR-9b-3p</text>
<text transform="translate(1166.40,925.68) rotate(90) scale(1,1.1)" x="0" y="0" font-size="22" class="lab">SHR1A</text>
<text transform="translate(1203.40,925.68) rotate(90) scale(1,1.1)" x="0" y="0" font-size="22" class="lab">SHR2A</text>
<text transform="translate(1240.40,925.68) rotate(90) scale(1,1.1)" x="0" y="0" font-size="22" class="lab">SHR3A</text>
<text transform="translate(1277.40,925.68) rotate(90) scale(1,1.1)" x="0" y="0" font-size="22" class="lab">SHR4A</text>
<text transform="translate(1314.40,925.68) rotate(90) scale(1,1.1)" x="0" y="0" font-size="22" class="lab">SHR5A</text>
<text transform="translate(1351.40,925.68) rotate(90) scale(1,1.1)" x="0" y="0" font-size="22" class="lab">WKY1A</text>
<text transform="translate(1388.40,925.68) rotate(90) scale(1,1.1)" x="0" y="0" font-size="22" class="lab">WKY2A</text>
<text transform="translate(1425.40,925.68) rotate(90) scale(1,1.1)" x="0" y="0" font-size="22" class="lab">WKY3A</text>
<text transform="translate(1462.40,925.68) rotate(90) scale(1,1.1)" x="0" y="0" font-size="22" class="lab">WKY4A</text>
<text transform="translate(1499.40,925.68) rotate(90) scale(1,1.1)" x="0" y="0" font-size="22" class="lab">WKY5A</text>
<text transform="translate(1536.40,925.68) rotate(90) scale(1,1.1)" x="0" y="0" font-size="22" class="lab">JSHR1A</text>
<text transform="translate(1573.40,925.68) rotate(90) scale(1,1.1)" x="0" y="0" font-size="22" class="lab">JSHR2A</text>
<text transform="translate(1610.40,925.68) rotate(90) scale(1,1.1)" x="0" y="0" font-size="22" class="lab">JSHR3A</text>
<text transform="translate(1647.40,925.68) rotate(90) scale(1,1.1)" x="0" y="0" font-size="22" class="lab">JSHR4A</text>
<text transform="translate(1684.40,925.68) rotate(90) scale(1,1.1)" x="0" y="0" font-size="22" class="lab">JSHR5A</text>
<polygon points="1880.5,341.3 1894.5,334.0 1894.5,339.0 1902.9,339.0 1902.9,343.6 1894.5,343.6 1894.5,348.6" fill="#F80000"/>
<polygon points="1893.3,384.9 1907.3,377.6 1907.3,382.6 1915.7,382.6 1915.7,387.2 1907.3,387.2 1907.3,392.2" fill="#F80000"/>
<polygon points="1880.5,430.6 1894.5,423.3 1894.5,428.3 1902.9,428.3 1902.9,432.9 1894.5,432.9 1894.5,437.9" fill="#F80000"/>
<polygon points="1866.2,511.1 1880.2,503.8 1880.2,508.8 1888.6,508.8 1888.6,513.4 1880.2,513.4 1880.2,518.4" fill="#F80000"/>
<polygon points="1894.9,556.6 1908.9,549.3 1908.9,554.3 1917.3,554.3 1917.3,558.9 1908.9,558.9 1908.9,563.9" fill="#F80000"/>
<polygon points="1880.0,598.6 1894.0,591.3 1894.0,596.3 1902.4,596.3 1902.4,600.9 1894.0,600.9 1894.0,605.9" fill="#F80000"/>
<polygon points="1854.7,638.8 1868.7,631.5 1868.7,636.5 1877.1,636.5 1877.1,641.1 1868.7,641.1 1868.7,646.1" fill="#F80000"/>
<polygon points="1891.5,857.4 1905.5,850.1 1905.5,855.1 1913.9,855.1 1913.9,859.7 1905.5,859.7 1905.5,864.7" fill="#F80000"/>
<path d="M1161.2,124.4 L1101.8,124.4 L1101.8,167.1 L1161.2,167.1 M1161.2,209.8 L1109.9,209.8 L1109.9,252.5 L1161.2,252.5 M1161.2,380.7 L1123.4,380.7 L1123.4,423.4 L1161.2,423.4 M1161.2,338.0 L1112.6,338.0 L1112.6,402.0 L1123.4,402.0 M1161.2,295.2 L1109.5,295.2 L1109.5,370.0 L1112.6,370.0 M1109.9,231.2 L1081.4,231.2 L1081.4,332.6 L1109.5,332.6 M1101.8,145.7 L1064.7,145.7 L1064.7,281.9 L1081.4,281.9 M1161.2,508.8 L1136.6,508.8 L1136.6,551.6 L1161.2,551.6 M1161.2,594.3 L1114.0,594.3 L1114.0,637.0 L1161.2,637.0 M1136.6,530.2 L1100.2,530.2 L1100.2,615.6 L1114.0,615.6 M1161.2,466.1 L1091.2,466.1 L1091.2,572.9 L1100.2,572.9 M1161.2,722.4 L1118.0,722.4 L1118.0,765.2 L1161.2,765.2 M1161.2,679.7 L1089.3,679.7 L1089.3,743.8 L1118.0,743.8 M1091.2,519.5 L1073.3,519.5 L1073.3,711.8 L1089.3,711.8 M1161.2,850.6 L1104.2,850.6 L1104.2,893.3 L1161.2,893.3 M1161.2,807.9 L1071.1,807.9 L1071.1,872.0 L1104.2,872.0 M1073.3,615.6 L1051.6,615.6 L1051.6,839.9 L1071.1,839.9 M1064.7,213.8 L1044.9,213.8 L1044.9,727.8 L1051.6,727.8" fill="none" stroke="#000" stroke-width="2.6" stroke-linejoin="miter" stroke-linecap="square"/>
<rect x="1926.7" y="104" width="21.6" height="332" fill="url(#rdylbu)"/>
<text x="1958.5" y="130.3" font-size="23.5" class="lab">3</text>
<text x="1958.5" y="182.5" font-size="23.5" class="lab">2</text>
<text x="1958.5" y="232.4" font-size="23.5" class="lab">1</text>
<text x="1958.5" y="283.4" font-size="23.5" class="lab">0</text>
<text x="1958.5" y="333.3" font-size="23.5" class="lab">-1</text>
<text x="1958.5" y="384.4" font-size="23.5" class="lab">-2</text>
<text x="1958.5" y="434.2" font-size="23.5" class="lab">-3</text>
<path d="M151.0,1162.0 L151.0,1505.0 L498.7,1505.0" fill="none" stroke="#1c1c1c" stroke-width="3.0"/>
<line x1="141.5" y1="1505.0" x2="151.0" y2="1505.0" stroke="#1c1c1c" stroke-width="3.0"/>
<text transform="translate(136.6,1514.7) scale(0.95,1)" font-size="27" text-anchor="end" class="b">0</text>
<line x1="141.5" y1="1436.8" x2="151.0" y2="1436.8" stroke="#1c1c1c" stroke-width="3.0"/>
<text transform="translate(136.6,1446.5) scale(0.95,1)" font-size="27" text-anchor="end" class="b">100</text>
<line x1="141.5" y1="1368.2" x2="151.0" y2="1368.2" stroke="#1c1c1c" stroke-width="3.0"/>
<text transform="translate(136.6,1377.9) scale(0.95,1)" font-size="27" text-anchor="end" class="b">200</text>
<line x1="141.5" y1="1299.6" x2="151.0" y2="1299.6" stroke="#1c1c1c" stroke-width="3.0"/>
<text transform="translate(136.6,1309.3) scale(0.95,1)" font-size="27" text-anchor="end" class="b">300</text>
<line x1="141.5" y1="1231.3" x2="151.0" y2="1231.3" stroke="#1c1c1c" stroke-width="3.0"/>
<text transform="translate(136.6,1241.0) scale(0.95,1)" font-size="27" text-anchor="end" class="b">400</text>
<line x1="141.5" y1="1162.7" x2="151.0" y2="1162.7" stroke="#1c1c1c" stroke-width="3.0"/>
<text transform="translate(136.6,1172.4) scale(0.95,1)" font-size="27" text-anchor="end" class="b">500</text>
<line x1="208.4" y1="1505.0" x2="208.4" y2="1515.5" stroke="#1c1c1c" stroke-width="3.0"/>
<text x="208.4" y="1542.5" font-size="27" text-anchor="middle" class="b">WKY</text>
<line x1="324.2" y1="1505.0" x2="324.2" y2="1515.5" stroke="#1c1c1c" stroke-width="3.0"/>
<text x="324.2" y="1542.5" font-size="27" text-anchor="middle" class="b">SHR</text>
<line x1="440.3" y1="1505.0" x2="440.3" y2="1515.5" stroke="#1c1c1c" stroke-width="3.0"/>
<text x="440.3" y="1542.5" font-size="27" text-anchor="middle" class="b">JSHR</text>
<text transform="translate(76.6,1333.2) rotate(-90)" x="0" y="0" font-size="28" text-anchor="middle" textLength="309.5" lengthAdjust="spacingAndGlyphs" class="b">miR-455-3p (copies/μL)</text>
<rect x="189.85" y="1427.05" width="9.50" height="9.50" fill="#2a2a2a" stroke="#141414" stroke-width="1"/>
<rect x="218.55" y="1424.75" width="9.50" height="9.50" fill="#2a2a2a" stroke="#141414" stroke-width="1"/>
<rect x="203.65" y="1445.85" width="9.50" height="9.50" fill="#2a2a2a" stroke="#141414" stroke-width="1"/>
<rect x="189.15" y="1467.95" width="9.50" height="9.50" fill="#2a2a2a" stroke="#141414" stroke-width="1"/>
<rect x="203.65" y="1465.65" width="9.50" height="9.50" fill="#2a2a2a" stroke="#141414" stroke-width="1"/>
<rect x="218.55" y="1483.15" width="9.50" height="9.50" fill="#2a2a2a" stroke="#141414" stroke-width="1"/>
<rect x="319.45" y="1191.95" width="9.50" height="9.50" fill="#2a2a2a" stroke="#141414" stroke-width="1"/>
<rect x="304.65" y="1230.85" width="9.50" height="9.50" fill="#2a2a2a" stroke="#141414" stroke-width="1"/>
<rect x="333.95" y="1244.05" width="9.50" height="9.50" fill="#2a2a2a" stroke="#141414" stroke-width="1"/>
<rect x="319.45" y="1293.45" width="9.50" height="9.50" fill="#2a2a2a" stroke="#141414" stroke-width="1"/>
<rect x="304.65" y="1346.95" width="9.50" height="9.50" fill="#2a2a2a" stroke="#141414" stroke-width="1"/>
<rect x="333.95" y="1348.85" width="9.50" height="9.50" fill="#2a2a2a" stroke="#141414" stroke-width="1"/>
<polygon points="440.3,1434.3 445.2,1444.1 435.4,1444.1" fill="#2a2a2a" stroke="#141414" stroke-width="1" stroke-linejoin="miter"/>
<polygon points="420.5,1455.1 425.4,1464.9 415.6,1464.9" fill="#2a2a2a" stroke="#141414" stroke-width="1" stroke-linejoin="miter"/>
<polygon points="440.3,1464.0 445.2,1473.8 435.4,1473.8" fill="#2a2a2a" stroke="#141414" stroke-width="1" stroke-linejoin="miter"/>
<polygon points="459.1,1467.3 464.0,1477.1 454.2,1477.1" fill="#2a2a2a" stroke="#141414" stroke-width="1" stroke-linejoin="miter"/>
<polygon points="430.4,1483.1 435.3,1492.9 425.5,1492.9" fill="#2a2a2a" stroke="#141414" stroke-width="1" stroke-linejoin="miter"/>
<polygon points="449.2,1486.4 454.1,1496.2 444.3,1496.2" fill="#2a2a2a" stroke="#141414" stroke-width="1" stroke-linejoin="miter"/>
<line x1="179.7" y1="1457.3" x2="237.5" y2="1457.3" stroke="#1c1c1c" stroke-width="3.2"/>
<line x1="295.8" y1="1280.8" x2="352.9" y2="1280.8" stroke="#1c1c1c" stroke-width="3.2"/>
<line x1="411.6" y1="1469.5" x2="468.3" y2="1469.5" stroke="#1c1c1c" stroke-width="3.2"/>
<path d="M214.4,1183.5 L214.4,1173.0 L323.2,1173.0 L323.2,1183.5" fill="none" stroke="#1c1c1c" stroke-width="3.0"/>
<text x="269.0" y="1169.6" font-size="29" text-anchor="middle" class="st">***</text>
<path d="M336.4,1183.5 L336.4,1173.0 L446.9,1173.0 L446.9,1183.5" fill="none" stroke="#1c1c1c" stroke-width="3.0"/>
<text x="391.4" y="1169.6" font-size="29" text-anchor="middle" class="st">***</text>
<path d="M642.2,1172.1 L642.2,1505.2 L981.8,1505.2" fill="none" stroke="#1c1c1c" stroke-width="3.0"/>
<line x1="633.2" y1="1505.2" x2="642.2" y2="1505.2" stroke="#1c1c1c" stroke-width="3.0"/>
<text transform="translate(627.5,1514.9) scale(0.95,1)" font-size="27" text-anchor="end" class="b">0</text>
<line x1="633.2" y1="1439.1" x2="642.2" y2="1439.1" stroke="#1c1c1c" stroke-width="3.0"/>
<text transform="translate(627.5,1448.8) scale(0.95,1)" font-size="27" text-anchor="end" class="b">200</text>
<line x1="633.2" y1="1372.8" x2="642.2" y2="1372.8" stroke="#1c1c1c" stroke-width="3.0"/>
<text transform="translate(627.5,1382.5) scale(0.95,1)" font-size="27" text-anchor="end" class="b">400</text>
<line x1="633.2" y1="1306.2" x2="642.2" y2="1306.2" stroke="#1c1c1c" stroke-width="3.0"/>
<text transform="translate(627.5,1315.9) scale(0.95,1)" font-size="27" text-anchor="end" class="b">600</text>
<line x1="633.2" y1="1239.6" x2="642.2" y2="1239.6" stroke="#1c1c1c" stroke-width="3.0"/>
<text transform="translate(627.5,1249.3) scale(0.95,1)" font-size="27" text-anchor="end" class="b">800</text>
<line x1="633.2" y1="1172.1" x2="642.2" y2="1172.1" stroke="#1c1c1c" stroke-width="3.0"/>
<text transform="translate(627.5,1181.8) scale(0.95,1)" font-size="27" text-anchor="end" class="b">1000</text>
<line x1="699.3" y1="1505.2" x2="699.3" y2="1515.5" stroke="#1c1c1c" stroke-width="3.0"/>
<text x="699.3" y="1542.5" font-size="27" text-anchor="middle" class="b">WKY</text>
<line x1="811.9" y1="1505.2" x2="811.9" y2="1515.5" stroke="#1c1c1c" stroke-width="3.0"/>
<text x="811.9" y="1542.5" font-size="27" text-anchor="middle" class="b">SHR</text>
<line x1="924.1" y1="1505.2" x2="924.1" y2="1515.5" stroke="#1c1c1c" stroke-width="3.0"/>
<text x="924.1" y="1542.5" font-size="27" text-anchor="middle" class="b">JSHR</text>
<text transform="translate(556.6,1339.2) rotate(-90)" x="0" y="0" font-size="28" text-anchor="middle" textLength="314.9" lengthAdjust="spacingAndGlyphs" class="b">miR-181b-5p (copies/μL)</text>
<rect x="694.55" y="1348.15" width="9.50" height="9.50" fill="#2a2a2a" stroke="#141414" stroke-width="1"/>
<rect x="694.55" y="1399.35" width="9.50" height="9.50" fill="#2a2a2a" stroke="#141414" stroke-width="1"/>
<rect x="680.15" y="1407.45" width="9.50" height="9.50" fill="#2a2a2a" stroke="#141414" stroke-width="1"/>
<rect x="708.95" y="1420.55" width="9.50" height="9.50" fill="#2a2a2a" stroke="#141414" stroke-width="1"/>
<rect x="694.55" y="1435.75" width="9.50" height="9.50" fill="#2a2a2a" stroke="#141414" stroke-width="1"/>
<rect x="694.55" y="1461.55" width="9.50" height="9.50" fill="#2a2a2a" stroke="#141414" stroke-width="1"/>
<rect x="816.85" y="1226.65" width="9.50" height="9.50" fill="#2a2a2a" stroke="#141414" stroke-width="1"/>
<rect x="797.55" y="1240.25" width="9.50" height="9.50" fill="#2a2a2a" stroke="#141414" stroke-width="1"/>
<rect x="788.35" y="1261.15" width="9.50" height="9.50" fill="#2a2a2a" stroke="#141414" stroke-width="1"/>
<rect x="807.15" y="1271.25" width="9.50" height="9.50" fill="#2a2a2a" stroke="#141414" stroke-width="1"/>
<rect x="825.55" y="1274.75" width="9.50" height="9.50" fill="#2a2a2a" stroke="#141414" stroke-width="1"/>
<rect x="807.15" y="1293.05" width="9.50" height="9.50" fill="#2a2a2a" stroke="#141414" stroke-width="1"/>
<polygon points="924.7,1217.0 929.6,1226.8 919.8,1226.8" fill="#2a2a2a" stroke="#141414" stroke-width="1" stroke-linejoin="miter"/>
<polygon points="924.7,1240.2 929.6,1250.0 919.8,1250.0" fill="#2a2a2a" stroke="#141414" stroke-width="1" stroke-linejoin="miter"/>
<polygon points="924.7,1333.4 929.6,1343.2 919.8,1343.2" fill="#2a2a2a" stroke="#141414" stroke-width="1" stroke-linejoin="miter"/>
<polygon points="910.5,1355.7 915.4,1365.5 905.6,1365.5" fill="#2a2a2a" stroke="#141414" stroke-width="1" stroke-linejoin="miter"/>
<polygon points="938.3,1361.7 943.2,1371.5 933.4,1371.5" fill="#2a2a2a" stroke="#141414" stroke-width="1" stroke-linejoin="miter"/>
<polygon points="924.7,1378.8 929.6,1388.6 919.8,1388.6" fill="#2a2a2a" stroke="#141414" stroke-width="1" stroke-linejoin="miter"/>
<line x1="671.3" y1="1417.5" x2="727.0" y2="1417.5" stroke="#1c1c1c" stroke-width="3.2"/>
<line x1="783.6" y1="1266.1" x2="839.9" y2="1266.1" stroke="#1c1c1c" stroke-width="3.2"/>
<line x1="896.4" y1="1319.7" x2="952.7" y2="1319.7" stroke="#1c1c1c" stroke-width="3.2"/>
<path d="M707.5,1182.2 L707.5,1173.0 L918.7,1173.0 L918.7,1182.2" fill="none" stroke="#1c1c1c" stroke-width="3.0"/>
<text x="807.1" y="1176.6" font-size="29" text-anchor="middle" class="st">*</text>
<path d="M708.5,1217.0 L708.5,1208.0 L811.9,1208.0 L811.9,1217.0" fill="none" stroke="#1c1c1c" stroke-width="3.0"/>
<text x="758.7" y="1207.6" font-size="29" text-anchor="middle" class="st">***</text>
<path d="M1133.2,1172.1 L1133.2,1503.0 L1470.4,1503.0" fill="none" stroke="#1c1c1c" stroke-width="3.0"/>
<line x1="1119.6" y1="1503.0" x2="1133.2" y2="1503.0" stroke="#1c1c1c" stroke-width="3.0"/>
<text transform="translate(1116.2,1512.7) scale(0.95,1)" font-size="27" text-anchor="end" class="b">0</text>
<line x1="1119.6" y1="1456.3" x2="1133.2" y2="1456.3" stroke="#1c1c1c" stroke-width="3.0"/>
<text transform="translate(1116.2,1466.0) scale(0.95,1)" font-size="27" text-anchor="end" class="b">1000</text>
<line x1="1119.6" y1="1408.7" x2="1133.2" y2="1408.7" stroke="#1c1c1c" stroke-width="3.0"/>
<text transform="translate(1116.2,1418.4) scale(0.95,1)" font-size="27" text-anchor="end" class="b">2000</text>
<line x1="1119.6" y1="1361.6" x2="1133.2" y2="1361.6" stroke="#1c1c1c" stroke-width="3.0"/>
<text transform="translate(1116.2,1371.3) scale(0.95,1)" font-size="27" text-anchor="end" class="b">3000</text>
<line x1="1119.6" y1="1314.3" x2="1133.2" y2="1314.3" stroke="#1c1c1c" stroke-width="3.0"/>
<text transform="translate(1116.2,1324.0) scale(0.95,1)" font-size="27" text-anchor="end" class="b">4000</text>
<line x1="1119.6" y1="1267.3" x2="1133.2" y2="1267.3" stroke="#1c1c1c" stroke-width="3.0"/>
<text transform="translate(1116.2,1277.0) scale(0.95,1)" font-size="27" text-anchor="end" class="b">5000</text>
<line x1="1119.6" y1="1219.7" x2="1133.2" y2="1219.7" stroke="#1c1c1c" stroke-width="3.0"/>
<text transform="translate(1116.2,1229.4) scale(0.95,1)" font-size="27" text-anchor="end" class="b">6000</text>
<line x1="1119.6" y1="1172.1" x2="1133.2" y2="1172.1" stroke="#1c1c1c" stroke-width="3.0"/>
<text transform="translate(1116.2,1181.8) scale(0.95,1)" font-size="27" text-anchor="end" class="b">7000</text>
<line x1="1200.7" y1="1503.0" x2="1200.7" y2="1515.5" stroke="#1c1c1c" stroke-width="3.0"/>
<text x="1200.7" y="1542.5" font-size="27" text-anchor="middle" class="b">WKY</text>
<line x1="1301.3" y1="1503.0" x2="1301.3" y2="1515.5" stroke="#1c1c1c" stroke-width="3.0"/>
<text x="1301.3" y="1542.5" font-size="27" text-anchor="middle" class="b">SHR</text>
<line x1="1401.9" y1="1503.0" x2="1401.9" y2="1515.5" stroke="#1c1c1c" stroke-width="3.0"/>
<text x="1401.9" y="1542.5" font-size="27" text-anchor="middle" class="b">JSHR</text>
<text transform="translate(1045.1,1338.0) rotate(-90)" x="0" y="0" font-size="28" text-anchor="middle" textLength="297.9" lengthAdjust="spacingAndGlyphs" class="b">miR-140-3p (copies/μL)</text>
<circle cx="1207.2" cy="1415.5" r="4.9" fill="#2a2a2a" stroke="#141414" stroke-width="1"/>
<circle cx="1194.4" cy="1427.2" r="4.9" fill="#2a2a2a" stroke="#141414" stroke-width="1"/>
<circle cx="1194.4" cy="1430.4" r="4.9" fill="#2a2a2a" stroke="#141414" stroke-width="1"/>
<circle cx="1207.2" cy="1444.8" r="4.9" fill="#2a2a2a" stroke="#141414" stroke-width="1"/>
<circle cx="1194.4" cy="1456.3" r="4.9" fill="#2a2a2a" stroke="#141414" stroke-width="1"/>
<circle cx="1207.2" cy="1465.0" r="4.9" fill="#2a2a2a" stroke="#141414" stroke-width="1"/>
<rect x="1290.25" y="1220.95" width="9.50" height="9.50" fill="#2a2a2a" stroke="#141414" stroke-width="1"/>
<rect x="1303.25" y="1219.05" width="9.50" height="9.50" fill="#2a2a2a" stroke="#141414" stroke-width="1"/>
<rect x="1296.55" y="1255.25" width="9.50" height="9.50" fill="#2a2a2a" stroke="#141414" stroke-width="1"/>
<rect x="1290.25" y="1299.85" width="9.50" height="9.50" fill="#2a2a2a" stroke="#141414" stroke-width="1"/>
<rect x="1303.25" y="1310.15" width="9.50" height="9.50" fill="#2a2a2a" stroke="#141414" stroke-width="1"/>
<rect x="1296.55" y="1353.05" width="9.50" height="9.50" fill="#2a2a2a" stroke="#141414" stroke-width="1"/>
<polygon points="1395.6,1403.3 1400.5,1413.1 1390.7,1413.1" fill="#2a2a2a" stroke="#141414" stroke-width="1" stroke-linejoin="miter"/>
<polygon points="1408.4,1401.4 1413.3,1411.2 1403.5,1411.2" fill="#2a2a2a" stroke="#141414" stroke-width="1" stroke-linejoin="miter"/>
<polygon points="1402.4,1430.5 1407.3,1440.3 1397.5,1440.3" fill="#2a2a2a" stroke="#141414" stroke-width="1" stroke-linejoin="miter"/>
<polygon points="1395.6,1453.6 1400.5,1463.4 1390.7,1463.4" fill="#2a2a2a" stroke="#141414" stroke-width="1" stroke-linejoin="miter"/>
<polygon points="1408.4,1455.8 1413.3,1465.6 1403.5,1465.6" fill="#2a2a2a" stroke="#141414" stroke-width="1" stroke-linejoin="miter"/>
<polygon points="1402.4,1472.1 1407.3,1481.9 1397.5,1481.9" fill="#2a2a2a" stroke="#141414" stroke-width="1" stroke-linejoin="miter"/>
<line x1="1167.2" y1="1440.7" x2="1234.4" y2="1440.7" stroke="#1c1c1c" stroke-width="3.2"/>
<line x1="1268.4" y1="1281.6" x2="1335.2" y2="1281.6" stroke="#1c1c1c" stroke-width="3.2"/>
<line x1="1369.0" y1="1442.0" x2="1435.8" y2="1442.0" stroke="#1c1c1c" stroke-width="3.2"/>
<path d="M1188.4,1204.0 L1188.4,1195.3 L1295.5,1195.3 L1295.5,1204.0" fill="none" stroke="#1c1c1c" stroke-width="3.0"/>
<text x="1241.8" y="1193.6" font-size="29" text-anchor="middle" class="st">***</text>
<path d="M1304.5,1204.0 L1304.5,1195.3 L1411.9,1195.3 L1411.9,1204.0" fill="none" stroke="#1c1c1c" stroke-width="3.0"/>
<text x="1359.5" y="1193.6" font-size="29" text-anchor="middle" class="st">***</text>
<path d="M1624.5,1156.5 L1624.5,1501.0 L1973.6,1501.0" fill="none" stroke="#1c1c1c" stroke-width="3.0"/>
<line x1="1610.1" y1="1501.0" x2="1624.5" y2="1501.0" stroke="#1c1c1c" stroke-width="3.0"/>
<text transform="translate(1605.6,1510.7) scale(0.95,1)" font-size="27" text-anchor="end" class="b">0.0</text>
<line x1="1610.1" y1="1432.1" x2="1624.5" y2="1432.1" stroke="#1c1c1c" stroke-width="3.0"/>
<text transform="translate(1605.6,1441.8) scale(0.95,1)" font-size="27" text-anchor="end" class="b">0.5</text>
<line x1="1610.1" y1="1363.2" x2="1624.5" y2="1363.2" stroke="#1c1c1c" stroke-width="3.0"/>
<text transform="translate(1605.6,1372.9) scale(0.95,1)" font-size="27" text-anchor="end" class="b">1.0</text>
<line x1="1610.1" y1="1294.3" x2="1624.5" y2="1294.3" stroke="#1c1c1c" stroke-width="3.0"/>
<text transform="translate(1605.6,1304.0) scale(0.95,1)" font-size="27" text-anchor="end" class="b">1.5</text>
<line x1="1610.1" y1="1225.4" x2="1624.5" y2="1225.4" stroke="#1c1c1c" stroke-width="3.0"/>
<text transform="translate(1605.6,1235.1) scale(0.95,1)" font-size="27" text-anchor="end" class="b">2.0</text>
<line x1="1610.1" y1="1156.5" x2="1624.5" y2="1156.5" stroke="#1c1c1c" stroke-width="3.0"/>
<text transform="translate(1605.6,1166.2) scale(0.95,1)" font-size="27" text-anchor="end" class="b">2.5</text>
<line x1="1693.6" y1="1501.0" x2="1693.6" y2="1515.5" stroke="#1c1c1c" stroke-width="3.0"/>
<text x="1693.6" y="1542.5" font-size="27" text-anchor="middle" class="b">WKY</text>
<line x1="1797.7" y1="1501.0" x2="1797.7" y2="1515.5" stroke="#1c1c1c" stroke-width="3.0"/>
<text x="1797.7" y="1542.5" font-size="27" text-anchor="middle" class="b">SHR</text>
<line x1="1902.4" y1="1501.0" x2="1902.4" y2="1515.5" stroke="#1c1c1c" stroke-width="3.0"/>
<text x="1902.4" y="1542.5" font-size="27" text-anchor="middle" class="b">JSHR</text>
<text transform="translate(1551.6,1328.6) rotate(-90)" x="0" y="0" font-size="28" text-anchor="middle" textLength="309.6" lengthAdjust="spacingAndGlyphs" class="b">miR-493-5p (copies/μL)</text>
<circle cx="1693.9" cy="1373.9" r="4.9" fill="#2a2a2a" stroke="#141414" stroke-width="1"/>
<circle cx="1693.9" cy="1405.1" r="4.9" fill="#2a2a2a" stroke="#141414" stroke-width="1"/>
<circle cx="1668.0" cy="1481.5" r="4.9" fill="#2a2a2a" stroke="#141414" stroke-width="1"/>
<circle cx="1684.9" cy="1483.5" r="4.9" fill="#2a2a2a" stroke="#141414" stroke-width="1"/>
<circle cx="1702.6" cy="1489.4" r="4.9" fill="#2a2a2a" stroke="#141414" stroke-width="1"/>
<circle cx="1720.2" cy="1495.1" r="4.9" fill="#2a2a2a" stroke="#141414" stroke-width="1"/>
<rect x="1793.55" y="1218.55" width="9.50" height="9.50" fill="#2a2a2a" stroke="#141414" stroke-width="1"/>
<rect x="1786.75" y="1327.85" width="9.50" height="9.50" fill="#2a2a2a" stroke="#141414" stroke-width="1"/>
<rect x="1800.35" y="1341.95" width="9.50" height="9.50" fill="#2a2a2a" stroke="#141414" stroke-width="1"/>
<rect x="1793.55" y="1381.35" width="9.50" height="9.50" fill="#2a2a2a" stroke="#141414" stroke-width="1"/>
<rect x="1793.55" y="1402.55" width="9.50" height="9.50" fill="#2a2a2a" stroke="#141414" stroke-width="1"/>
<rect x="1793.55" y="1454.75" width="9.50" height="9.50" fill="#2a2a2a" stroke="#141414" stroke-width="1"/>
<polygon points="1925.5,1340.8 1930.4,1350.6 1920.6,1350.6" fill="#2a2a2a" stroke="#141414" stroke-width="1" stroke-linejoin="miter"/>
<polygon points="1879.8,1355.7 1884.7,1365.5 1874.9,1365.5" fill="#2a2a2a" stroke="#141414" stroke-width="1" stroke-linejoin="miter"/>
<polygon points="1902.4,1355.7 1907.3,1365.5 1897.5,1365.5" fill="#2a2a2a" stroke="#141414" stroke-width="1" stroke-linejoin="miter"/>
<polygon points="1902.4,1378.0 1907.3,1387.8 1897.5,1387.8" fill="#2a2a2a" stroke="#141414" stroke-width="1" stroke-linejoin="miter"/>
<polygon points="1902.4,1423.7 1907.3,1433.5 1897.5,1433.5" fill="#2a2a2a" stroke="#141414" stroke-width="1" stroke-linejoin="miter"/>
<polygon points="1902.4,1470.4 1907.3,1480.2 1897.5,1480.2" fill="#2a2a2a" stroke="#141414" stroke-width="1" stroke-linejoin="miter"/>
<line x1="1659.0" y1="1455.1" x2="1728.4" y2="1455.1" stroke="#1c1c1c" stroke-width="3.2"/>
<line x1="1763.7" y1="1359.6" x2="1832.5" y2="1359.6" stroke="#1c1c1c" stroke-width="3.2"/>
<line x1="1868.4" y1="1393.1" x2="1937.2" y2="1393.1" stroke="#1c1c1c" stroke-width="3.2"/>
<path d="M1684.3,1197.4 L1684.3,1187.6 L1796.4,1187.6 L1796.4,1197.4" fill="none" stroke="#1c1c1c" stroke-width="3.0"/>
<text x="1738.3" y="1181.6" font-size="29" text-anchor="middle" class="st">*</text>
</svg>
</body></html>
